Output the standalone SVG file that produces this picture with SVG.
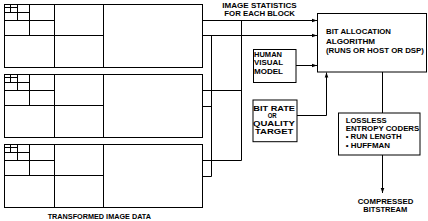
<svg xmlns="http://www.w3.org/2000/svg" xmlns:xlink="http://www.w3.org/1999/xlink" width="428" height="221" viewBox="0 0 428 221">
<style>
.ln{fill:none;stroke:#000;stroke-width:1}
.bx{fill:#fff;stroke:#000;stroke-width:1}
.t{font-family:"Liberation Sans",Arial,sans-serif;font-weight:bold;font-size:7px;fill:#000}
.c{text-anchor:middle}
</style>
<defs>
<marker id="ah" markerUnits="userSpaceOnUse" markerWidth="6" markerHeight="6" refX="5" refY="3" orient="auto">
<path d="M0,1.2 L5,3 L0,4.8 Z" fill="#000"/>
</marker>
<g id="blk">
<rect class="bx" x="4.5" y="0" width="198" height="63"/>
<path class="ln" d="M54.5,0V63M103.5,0V63M4.5,31H103.5M29.5,0V31M4.5,16H54.5M17.5,0V16M4.5,8H29.5M10.5,0V8M4.5,3H17.5"/>
</g>
</defs>
<rect width="428" height="221" fill="#fff"/>
<g id="connectors">
<path class="ln" d="M202.5,20.5H317" marker-end="url(#ah)"/>
<path class="ln" d="M202.5,35.5H317" marker-end="url(#ah)"/>
<path class="ln" d="M211.5,35.5V176.5M241.5,20.5V160.5"/>
<path class="ln" d="M202.5,90.5H241.5M202.5,106.5H211.5M202.5,160.5H241.5M202.5,176.5H211.5"/>
<path class="ln" d="M296,65.5H317" marker-end="url(#ah)"/>
<path class="ln" d="M297,115.5H326.5V72.5" marker-end="url(#ah)"/>
<path class="ln" d="M382.5,72V113"/>
<path class="ln" d="M382.5,155V193" marker-end="url(#ah)"/>
</g>
<g id="block1"><use xlink:href="#blk" href="#blk" y="4.5"/></g>
<g id="block2"><use xlink:href="#blk" href="#blk" y="74.5"/></g>
<g id="block3"><use xlink:href="#blk" href="#blk" y="144.5"/></g>
<g id="label-transformed"><text class="t" x="47.7" y="219.3" textLength="103.3" lengthAdjust="spacingAndGlyphs">TRANSFORMED IMAGE DATA</text></g>
<g id="label-stats">
<text class="t" x="222.3" y="7.5" textLength="74.4" lengthAdjust="spacingAndGlyphs">IMAGE STATISTICS</text>
<text class="t" x="224.3" y="16.3" textLength="70.7" lengthAdjust="spacingAndGlyphs">FOR EACH BLOCK</text>
</g>
<g id="bit-allocation">
<rect class="bx" x="317.5" y="13.5" width="109" height="58.5"/>
<text class="t" x="326" y="34.3" textLength="65" lengthAdjust="spacingAndGlyphs">BIT ALLOCATION</text>
<text class="t" x="326" y="43.7" textLength="49" lengthAdjust="spacingAndGlyphs">ALGORITHM</text>
<text class="t" x="326" y="53.3" textLength="98" lengthAdjust="spacingAndGlyphs">(RUNS OR HOST OR DSP)</text>
</g>
<g id="human-visual-model">
<rect class="bx" x="253.5" y="49.5" width="42.5" height="33"/>
<text class="t" x="254" y="56.7" textLength="28" lengthAdjust="spacingAndGlyphs">HUMAN</text>
<text class="t" x="254" y="65.3" textLength="29" lengthAdjust="spacingAndGlyphs">VISUAL</text>
<text class="t" x="254" y="74" textLength="29" lengthAdjust="spacingAndGlyphs">MODEL</text>
</g>
<g id="bit-rate">
<rect class="bx" x="253" y="100" width="44" height="41.7"/>
<text class="t" x="253.3" y="110.5" textLength="41.7" lengthAdjust="spacingAndGlyphs">BIT RATE</text>
<text class="t" x="267.7" y="118.3" textLength="9" lengthAdjust="spacingAndGlyphs">OR</text>
<text class="t" x="253" y="126" textLength="42" lengthAdjust="spacingAndGlyphs">QUALITY</text>
<text class="t" x="255" y="134.3" textLength="38.3" lengthAdjust="spacingAndGlyphs">TARGET</text>
</g>
<g id="lossless">
<rect class="bx" x="338.5" y="113" width="81.5" height="42"/>
<text class="t" x="345.7" y="122.7" textLength="41" lengthAdjust="spacingAndGlyphs">LOSSLESS</text>
<text class="t" x="345.7" y="130.9" textLength="73.6" lengthAdjust="spacingAndGlyphs">ENTROPY CODERS</text>
<text class="t" x="345.7" y="139.2" textLength="56" lengthAdjust="spacingAndGlyphs">• RUN LENGTH</text>
<text class="t" x="345.7" y="147.7" textLength="44.3" lengthAdjust="spacingAndGlyphs">• HUFFMAN</text>
</g>
<g id="label-compressed">
<text class="t" x="357.7" y="204" textLength="55.6" lengthAdjust="spacingAndGlyphs">COMPRESSED</text>
<text class="t" x="363.3" y="211.5" textLength="44" lengthAdjust="spacingAndGlyphs">BITSTREAM</text>
</g>
</svg>
